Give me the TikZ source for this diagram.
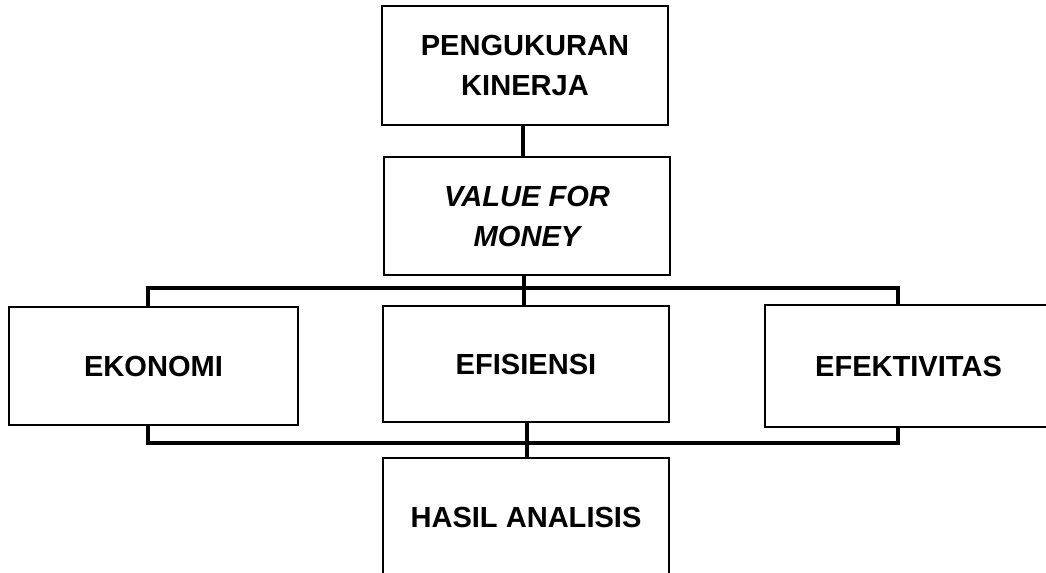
\documentclass[tikz,border=0pt]{standalone}
\usepackage{fontspec}
\setmainfont{Liberation Sans}
\begin{document}
\begin{tikzpicture}[x=0.75pt,y=-0.75pt,
  box/.style={draw=black,line width=2.2pt,fill=white,rectangle,inner sep=0pt,align=center,
    font=\bfseries\fontsize{21.8}{30}\selectfont},
  bar/.style={draw=black,line width=2.8pt},
  link/.style={draw=black,line width=2.6pt}]
\useasboundingbox (0,0) rectangle (1046,573);
\clip (0,0) rectangle (1046,573);
% bracket coordinates
\coordinate (tl) at (148,288);
\coordinate (tr) at (898,288);
\coordinate (bl) at (148,443);
\coordinate (br) at (898,443);
\coordinate (tm) at (524,288);
\coordinate (bm) at (527,443);
% nodes
\node[box,minimum width=286*0.75pt,minimum height=119*0.75pt] (pk) at (525,65.5) {PENGUKURAN\\KINERJA};
\node[box,minimum width=286*0.75pt,minimum height=118*0.75pt,font=\bfseries\itshape\fontsize{21.8}{30}\selectfont] (vfm) at (527,216) {VALUE FOR\\MONEY};
% bracket lines (drawn behind the boxes)
\draw[bar] (tl) ++(0,20) -- (tl) -- (tr) -- ++(0,20);
\draw[bar] (bl) ++(0,-20) -- (bl) -- (br) -- ++(0,-20);
\node[box,minimum width=289*0.75pt,minimum height=118*0.75pt] (eko) at (153.5,366) {EKONOMI};
\node[box,minimum width=286*0.75pt,minimum height=116*0.75pt] (efi) at (526,364) {EFISIENSI};
\node[box,minimum width=287*0.75pt,minimum height=122*0.75pt] (efe) at (908.5,366) {EFEKTIVITAS};
\node[box,minimum width=286*0.75pt,minimum height=118*0.75pt] (has) at (526,517) {HASIL ANALISIS};
% connectors
\draw[link] (pk.south -| 523,0) -- (vfm.north -| 523,0);
\draw[link] (vfm.south -| tm) -- (efi.north -| tm);
\draw[link] (efi.south -| bm) -- (has.north -| bm);
\end{tikzpicture}
\end{document}
